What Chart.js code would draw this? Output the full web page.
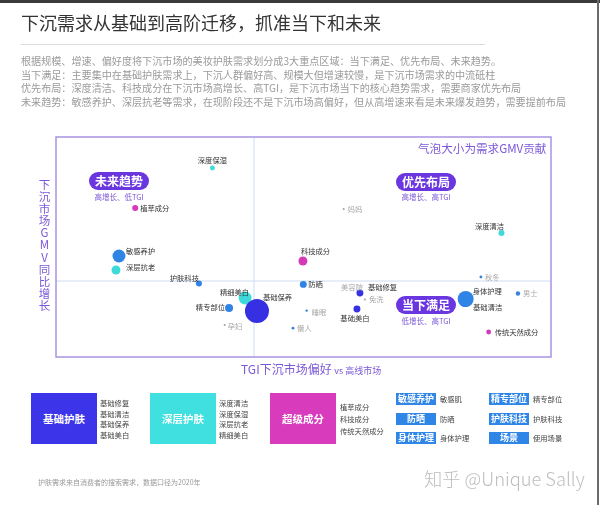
<!DOCTYPE html>
<html lang="zh">
<head>
<meta charset="UTF-8">
<title>下沉需求从基础到高阶迁移</title>
<script src="https://cdn.jsdelivr.net/npm/chart.js"></script>
<style>
  body { margin: 0; background: #fff; font-family: "Noto Sans CJK SC", "Noto Sans", sans-serif; }
  #page { position: relative; width: 600px; height: 505px; overflow: hidden; background: #fff; }
  #page canvas { position: absolute; left: 0; top: 0; }
  .abs { position: absolute; white-space: nowrap; }
  .topbar { left: 0; top: 0; width: 600px; height: 3px; background: #3a3a3a; }
  .rightbar { left: 597px; top: 0; width: 2px; height: 505px; background: #6a6a6a; }
  .title { left: 21px; top: 9px; font-size: 18px; color: #333; line-height: 26px; }
  .rule { left: 21px; top: 44px; width: 464px; height: 1px; background: #ddd; }
  .desc { left: 21px; top: 54px; font-size: 10.1px; line-height: 13.6px; color: #9a9a9a; }
  .ytitle { left: 38px; top: 178px; width: 13px; font-size: 11.5px; line-height: 12.1px; color: #7b58d8; text-align: center; word-break: break-all; white-space: normal; }
  .xtitle { left: 241px; top: 360px; font-size: 12px; color: #7b58d8; }
  .xtitle small { font-size: 9px; }
  .gmv { left: 418px; top: 140px; font-size: 11.6px; color: #7b58d8; }
  .pill { height: 18px; width: 60px; border-radius: 9px; background: #6a36e0; color: #fff; font-weight: bold;
          font-size: 12px; line-height: 18px; text-align: center; }
  .sub { font-size: 7.5px; color: #7b58d8; text-align: center; width: 70px; }
  .box { top: 393px; width: 66px; height: 51px; color: #fff; font-weight: bold; font-size: 10.5px;
         line-height: 51px; text-align: center; }
  .list { font-size: 7.3px; color: #444; line-height: 10.5px; }
  .tag { width: 40px; height: 12px; background: #2f86e6; color: #fff; font-weight: bold; font-size: 9px;
         line-height: 12px; text-align: center; }
  .tagtxt { font-size: 7.3px; color: #444; line-height: 12px; }
  .foot { left: 38px; top: 477px; font-size: 7px; color: #999; }
  .mark { left: 424px; top: 465px; font-size: 18.3px; color: #bdbdbd; font-family: "Noto Sans CJK SC", "Open Sans", sans-serif; font-weight: 300; }
</style>
</head>
<body>
<div id="page">
  <canvas id="bubbleChart" width="600" height="505"></canvas>

  <div class="abs topbar"></div>
  <div class="abs rightbar"></div>
  <div class="abs title">下沉需求从基础到高阶迁移，抓准当下和未来</div>
  <div class="abs rule"></div>
  <div class="abs desc">根据规模、增速、偏好度将下沉市场的美妆护肤需求划分成3大重点区域：当下满足、优先布局、未来趋势。<br>当下满足：主要集中在基础护肤需求上，下沉人群偏好高、规模大但增速较慢，是下沉市场需求的中流砥柱<br>优先布局：深度清洁、科技成分在下沉市场高增长、高TGI，是下沉市场当下的核心趋势需求，需要商家优先布局<br>未来趋势：敏感养护、深层抗老等需求，在现阶段还不是下沉市场高偏好，但从高增速来看是未来爆发趋势，需要提前布局</div>

  <div class="abs ytitle">下沉市场GMV同比增长</div>
  <div class="abs xtitle">TGI下沉市场偏好 <small>vs 高线市场</small></div>
  <div class="abs gmv">气泡大小为需求GMV贡献</div>

  <div class="abs pill" style="left:89px; top:172px;">未来趋势</div>
  <div class="abs sub" style="left:84px; top:191px;">高增长、低TGI</div>
  <div class="abs pill" style="left:396px; top:173px;">优先布局</div>
  <div class="abs sub" style="left:391px; top:191px;">高增长、高TGI</div>
  <div class="abs pill" style="left:396px; top:296px;">当下满足</div>
  <div class="abs sub" style="left:391px; top:315px;">低增长、高TGI</div>

  <!-- 图例 -->
  <div class="abs box" style="left:31px; background:#3b34e8;">基础护肤</div>
  <div class="abs list" style="left:100px; top:398px;">基础修复<br>基础清洁<br>基础保养<br>基础美白</div>
  <div class="abs box" style="left:150px; background:#40e0e0;">深层护肤</div>
  <div class="abs list" style="left:219px; top:398px;">深度清洁<br>深度保湿<br>深层抗老<br>精细美白</div>
  <div class="abs box" style="left:270px; background:#d93bbd;">超级成分</div>
  <div class="abs list" style="left:340px; top:401px; line-height:12px;">植萃成分<br>科技成分<br>传统天然成分</div>

  <div class="abs tag" style="left:396px; top:393px;">敏感养护</div>
  <div class="abs tagtxt" style="left:440px; top:393px;">敏感肌</div>
  <div class="abs tag" style="left:396px; top:413px;">防晒</div>
  <div class="abs tagtxt" style="left:440px; top:413px;">防晒</div>
  <div class="abs tag" style="left:396px; top:432px;">身体护理</div>
  <div class="abs tagtxt" style="left:440px; top:432px;">身体护理</div>
  <div class="abs tag" style="left:489px; top:393px;">精专部位</div>
  <div class="abs tagtxt" style="left:533px; top:393px;">精专部位</div>
  <div class="abs tag" style="left:489px; top:413px;">护肤科技</div>
  <div class="abs tagtxt" style="left:533px; top:413px;">护肤科技</div>
  <div class="abs tag" style="left:489px; top:432px;">场景</div>
  <div class="abs tagtxt" style="left:533px; top:432px;">使用场景</div>

  <div class="abs foot">护肤需求来自消费者的搜索需求，数据口径为2020年</div>
  <div class="abs mark">知乎 @Unique Sally</div>
</div>

<script>
// 基础护肤
const baseNames  = ["基础修复", "基础清洁", "基础保养", "基础美白"];
const baseTgi    = [153.5, 206.6, 101.5, 152];
const baseGrowth = [-6, -10, -15, -14];
const baseGmv    = [12, 36, 144, 12];

// 深层护肤
const deepNames  = ["深度清洁", "深度保湿", "深层抗老", "精细美白"];
const deepTgi    = [225, 79, 30.3, 95.5];
const deepGrowth = [24, 56.5, 5.5, -8.5];
const deepGmv    = [9, 6, 20, 42];

// 超级成分
const ingrNames  = ["植萃成分", "科技成分", "传统天然成分"];
const ingrTgi    = [40, 124.7, 218.5];
const ingrGrowth = [36.5, 10, -25.5];
const ingrGmv    = [9, 20, 6];

// 其他需求（敏感养护 / 防晒 / 身体护理 / 精专部位 / 护肤科技）
const needNames  = ["敏感养护", "防晒", "身体护理", "精专部位", "护肤科技"];
const needTgi    = [31.8, 124.9, 206.9, 87.4, 72.2];
const needGrowth = [12.5, -1.7, -9, -13.5, -1.2];
const needGmv    = [42, 12, 64, 16, 9];

// 场景
const sceneNames  = ["秋冬", "男士", "懒人", "睡眠"];
const sceneTgi    = [214.6, 233.3, 119.7, 126.6];
const sceneGrowth = [2, -6.2, -23.6, -14.8];
const sceneGmv    = [2, 5, 2, 1.5];

const scene2Names  = ["妈妈", "孕妇", "免洗", "美容院"];
const scene2Tgi    = [145.3, 85.2, 156, 153.5];
const scene2Growth = [36, -22, -9.2, -6];
const scene2Gmv    = [1, 1, 1, 1];

// 坐标轴范围与象限分界
const tgiMin = 0, tgiMax = 250, tgiSplit = 100;
const growthMin = -38, growthMax = 72, growthSplit = 0;

// 标签位置（相对气泡中心的像素偏移）
const labelPlace = {
  "深度保湿": [0, -8, "center"], "植萃成分": [5, 0, "left"], "妈妈": [4, 0, "left"],
  "深度清洁": [-12, -7, "center"], "敏感养护": [7, -5, "left"], "深层抗老": [10, -3, "left"],
  "科技成分": [-2, -10, "left"], "秋冬": [4, 0, "left"], "护肤科技": [0, -5, "right"],
  "防晒": [5, 0, "left"], "精细美白": [4, -6, "right"], "基础保养": [6, -14, "left"],
  "精专部位": [-4, -1, "right"], "孕妇": [3, 1, "left"], "懒人": [4, 0, "left"],
  "睡眠": [5, 2, "left"], "基础修复": [8, -6, "left"], "美容院": [3, -6, "right"],
  "免洗": [4, 0, "left"], "基础美白": [-2, 9, "center"], "身体护理": [7, -8, "left"],
  "基础清洁": [8, 6, "left"], "男士": [5, 0, "left"], "传统天然成分": [6, 0, "left"]
};
const grayLabels = ["妈妈", "秋冬", "男士", "孕妇", "懒人", "睡眠", "免洗", "美容院"];

function makeSet(names, tgi, growth, gmv, color) {
  return {
    names: names,
    data: names.map((n, i) => ({ x: tgi[i], y: growth[i], r: Math.sqrt(gmv[i]) })),
    backgroundColor: color,
    borderWidth: 0,
    hoverRadius: 0
  };
}

const quadrantPlugin = {
  id: "quadrants",
  beforeDatasetsDraw(chart) {
    const { ctx, chartArea: a, scales } = chart;
    const sx = scales.x.getPixelForValue(tgiSplit);
    const sy = scales.y.getPixelForValue(growthSplit);
    ctx.save();
    ctx.strokeStyle = "#cddcf2";
    ctx.lineWidth = 1;
    ctx.beginPath();
    ctx.moveTo(sx, a.top); ctx.lineTo(sx, a.bottom);
    ctx.moveTo(a.left, sy); ctx.lineTo(a.right, sy);
    ctx.stroke();
    ctx.strokeStyle = "#a893e2";
    ctx.lineWidth = 1.5;
    ctx.strokeRect(a.left, a.top, a.right - a.left, a.bottom - a.top);
    ctx.restore();
  }
};

const labelPlugin = {
  id: "pointLabels",
  afterDatasetsDraw(chart) {
    const ctx = chart.ctx;
    ctx.save();
    ctx.font = '7.3px "Noto Sans CJK SC"';
    ctx.textBaseline = "middle";
    chart.data.datasets.forEach((ds, i) => {
      chart.getDatasetMeta(i).data.forEach((el, j) => {
        const name = ds.names[j];
        const p = labelPlace[name] || [5, 0, "left"];
        ctx.fillStyle = grayLabels.includes(name) ? "#a8a8a8" : "#333";
        ctx.textAlign = p[2];
        ctx.fillText(name, el.x + p[0], el.y + p[1]);
      });
    });
    ctx.restore();
  }
};

new Chart(document.getElementById("bubbleChart"), {
  type: "bubble",
  data: {
    datasets: [
      makeSet(needNames, needTgi, needGrowth, needGmv, "#2f84e6"),
      makeSet(baseNames, baseTgi, baseGrowth, baseGmv, "#3630e2"),
      makeSet(deepNames, deepTgi, deepGrowth, deepGmv, "#3edada"),
      makeSet(ingrNames, ingrTgi, ingrGrowth, ingrGmv, "#d43ab8"),
      makeSet(sceneNames, sceneTgi, sceneGrowth, sceneGmv, "#3b80dc"),
      makeSet(scene2Names, scene2Tgi, scene2Growth, scene2Gmv, "#a0a0a0")
    ]
  },
  options: {
    responsive: false,
    animation: false,
    layout: { padding: { left: 56, top: 137, right: 49, bottom: 148 } },
    plugins: { legend: { display: false }, tooltip: { enabled: false } },
    scales: {
      x: { type: "linear", min: tgiMin, max: tgiMax, display: false },
      y: { type: "linear", min: growthMin, max: growthMax, display: false }
    }
  },
  plugins: [quadrantPlugin, labelPlugin]
});
</script>
</body>
</html>
